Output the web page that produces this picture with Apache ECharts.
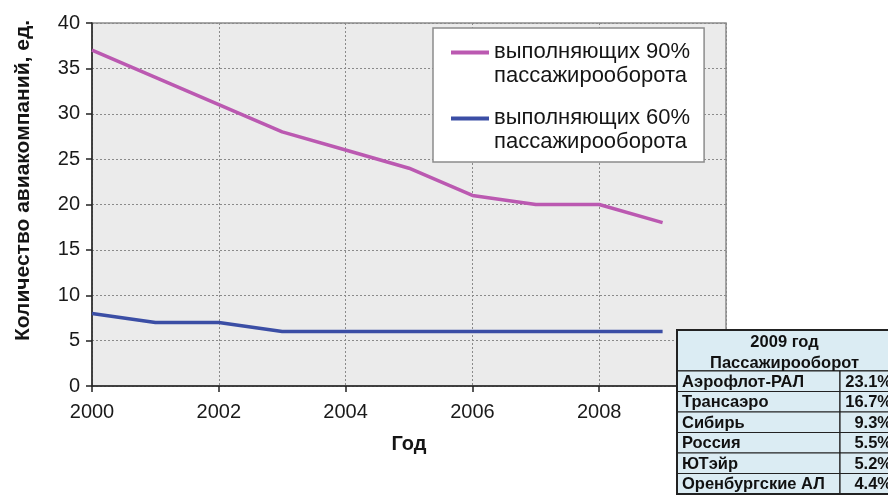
<!DOCTYPE html>
<html><head><meta charset="utf-8">
<script src="https://cdn.jsdelivr.net/npm/echarts@6/dist/echarts.min.js"></script>
<style>html,body{margin:0;padding:0;background:#fff}#c{width:888px;height:496px}</style>
</head><body><div id="c"></div>
<script>
// ---- data ----
const years = [2000, 2001, 2002, 2003, 2004, 2005, 2006, 2007, 2008, 2009];
const airlines90 = [37, 34, 31, 28, 26, 24, 21, 20, 20, 18];
const airlines60 = [8, 7, 7, 6, 6, 6, 6, 6, 6, 6];
const seriesNames = ['выполняющих 90%\nпассажирооборота', 'выполняющих 60%\nпассажирооборота'];
const xAxisTitle = 'Год';
const yAxisTitle = 'Количество авиакомпаний, ед.';
const tableHeader = ['2009 год', 'Пассажирооборот'];
const tableNames = ['Аэрофлот-РАЛ', 'Трансаэро', 'Сибирь', 'Россия', 'ЮТэйр', 'Оренбургские АЛ'];
const tableValues = ['23.1%', '16.7%', '9.3%', '5.5%', '5.2%', '4.4%'];

// ---- presentation ----
const FONT = '"Liberation Sans", Arial, sans-serif';
const colors = ['#bb59b1', '#3b4ea5'];
const legendIcon = 'path://M0,0 L38,0 L38,4 L0,4 Z M0,27 L0.01,27 L0,26.99 Z';

// table layout
const T = { x: 677, y: 330, w: 219, headH: 41, rowH: 20.5, splitX: 840 };
const Z = 200;
const tableChildren = [];
const cellFill = '#dbecf3', lineCol = '#222';
const tFont = 'bold 16.5px ' + FONT;
tableChildren.push({ type: 'rect', z: Z, shape: { x: T.x, y: T.y, width: T.w, height: T.headH },
  style: { fill: cellFill, stroke: lineCol, lineWidth: 1.5 } });
tableHeader.forEach((t, i) => tableChildren.push({ type: 'text', z: Z + 2,
  style: { text: t, x: T.x + T.w / 2 - 2, y: T.y + 12 + i * 21, align: 'center', verticalAlign: 'middle',
    fill: '#111', font: tFont } }));
tableNames.forEach((n, i) => {
  const y = T.y + T.headH + i * T.rowH;
  tableChildren.push({ type: 'rect', z: Z, shape: { x: T.x, y: y, width: T.splitX - T.x, height: T.rowH },
    style: { fill: cellFill, stroke: lineCol, lineWidth: 1.2 } });
  tableChildren.push({ type: 'rect', z: Z, shape: { x: T.splitX, y: y, width: T.x + T.w - T.splitX, height: T.rowH },
    style: { fill: cellFill, stroke: lineCol, lineWidth: 1.2 } });
  tableChildren.push({ type: 'text', z: Z + 2, style: { text: n, x: T.x + 5, y: y + T.rowH / 2 + 1, align: 'left',
    verticalAlign: 'middle', fill: '#111', font: tFont } });
  tableChildren.push({ type: 'text', z: Z + 2, style: { text: tableValues[i], x: T.x + T.w - 4, y: y + T.rowH / 2 + 1,
    align: 'right', verticalAlign: 'middle', fill: '#111', font: tFont } });
});
tableChildren.push({ type: 'rect', z: Z + 1, shape: { x: T.x, y: T.y, width: T.w, height: T.headH + T.rowH * tableNames.length },
  style: { fill: 'none', stroke: lineCol, lineWidth: 2 } });

const chart = echarts.init(document.getElementById('c'), null, { renderer: 'canvas' });
chart.setOption({
  backgroundColor: '#ffffff',
  animation: false,
  color: colors,
  textStyle: { fontFamily: FONT },
  grid: { left: 92, right: 162, top: 23, bottom: 110, show: true, backgroundColor: '#ebebeb',
    borderColor: '#8c8c8c', borderWidth: 1.5 },
  legend: {
    left: 433, top: 28, orient: 'vertical',
    padding: [12, 14, 8, 18], itemGap: 18, itemWidth: 38, itemHeight: 27,
    backgroundColor: '#ffffff', borderColor: '#8c8c8c', borderWidth: 1.5,
    itemStyle: { borderWidth: 0 },
    data: seriesNames.map(n => ({ name: n, icon: legendIcon })),
    textStyle: { fontSize: 22, lineHeight: 24, color: '#151515', fontFamily: FONT }
  },
  xAxis: {
    type: 'value', min: 2000, max: 2010, interval: 2,
    name: xAxisTitle, nameLocation: 'middle', nameGap: 48,
    nameTextStyle: { fontSize: 20, fontWeight: 'bold', color: '#151515' },
    axisLine: { show: true, lineStyle: { color: '#222', width: 1.5 } },
    axisTick: { show: true, length: 6, lineStyle: { color: '#222', width: 1.5 } },
    axisLabel: { fontSize: 20, color: '#1a1a1a', margin: 16, formatter: v => String(v) },
    splitLine: { show: true, lineStyle: { color: '#8a8a8a', type: [2, 2], width: 1 } }
  },
  yAxis: {
    type: 'value', min: 0, max: 40, interval: 5,
    name: yAxisTitle, nameLocation: 'middle', nameGap: 58, nameRotate: 90,
    nameTextStyle: { fontSize: 21, fontWeight: 'bold', color: '#151515', padding: [0, 0, 0, 48] },
    axisLine: { show: true, lineStyle: { color: '#222', width: 1.5 } },
    axisTick: { show: true, length: 6, lineStyle: { color: '#222', width: 1.5 } },
    axisLabel: { fontSize: 20, color: '#1a1a1a', margin: 12 },
    splitLine: { show: true, lineStyle: { color: '#8a8a8a', type: [2, 2], width: 1 } }
  },
  series: [
    { name: seriesNames[0], type: 'line', symbol: 'none', data: years.map((y, i) => [y, airlines90[i]]),
      lineStyle: { width: 3.5, color: colors[0] }, itemStyle: { color: colors[0] } },
    { name: seriesNames[1], type: 'line', symbol: 'none', data: years.map((y, i) => [y, airlines60[i]]),
      lineStyle: { width: 3.5, color: colors[1] }, itemStyle: { color: colors[1] } }
  ],
  graphic: [{ type: 'group', z: Z, zlevel: 1, children: tableChildren }]
});
</script>
</body></html>
